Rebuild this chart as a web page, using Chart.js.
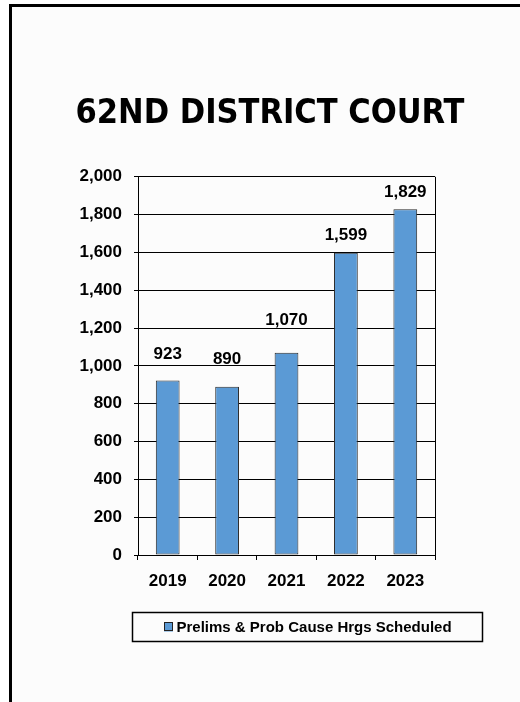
<!DOCTYPE html>
<html>
<head>
<meta charset="utf-8">
<script src="https://cdn.jsdelivr.net/npm/chart.js@4"></script>
<style>
  html, body { margin: 0; padding: 0; background: #ffffff; width: 520px; height: 702px; overflow: hidden; }
  #frame { position: absolute; left: 9px; top: 4px; width: 540px; height: 720px; border-left: 3px solid #000; border-top: 3px solid #000; background: #fcfcfc; }
  #wrap { position: absolute; left: 20px; top: 0; width: 500px; height: 702px; }
</style>
</head>
<body>
<div id="frame"></div>
<div id="wrap"><canvas id="c"></canvas></div>
<script>
const categories = ['2019', '2020', '2021', '2022', '2023'];
const seriesName = 'Prelims & Prob Cause Hrgs Scheduled';
const seriesValues = [923, 890, 1070, 1599, 1829];
const titleText = '62ND DISTRICT COURT';
const yTicks = [0, 200, 400, 600, 800, 1000, 1200, 1400, 1600, 1800, 2000];

const FONT = '"Liberation Sans", Arial, sans-serif';
const barColor = '#5b9ad5';
const labelLift = [26, 27, 32, 17, 17];

const fmt = v => v.toLocaleString('en-US');

const valueLabels = {
  id: 'valueLabels',
  afterDatasetsDraw(chart) {
    const ctx = chart.ctx;
    const meta = chart.getDatasetMeta(0);
    ctx.save();
    ctx.font = 'bold 17px ' + FONT;
    ctx.fillStyle = '#000';
    ctx.textAlign = 'center';
    ctx.textBaseline = 'middle';
    meta.data.forEach((bar, i) => {
      ctx.fillText(fmt(seriesValues[i]), bar.x, bar.y - labelLift[i]);
    });
    ctx.restore();
  }
};

const frameAndLegend = {
  id: 'frameAndLegend',
  afterDraw(chart) {
    const ctx = chart.ctx;
    const a = chart.chartArea;
    ctx.save();
    ctx.strokeStyle = '#000';
    ctx.lineWidth = 1;
    ctx.beginPath();
    ctx.moveTo(Math.round(a.right) + 0.5, a.top);
    ctx.lineTo(Math.round(a.right) + 0.5, a.bottom);
    ctx.stroke();
    const lx = 112.5, ly = a.bottom + 57.5, lw = 350, lh = 29;
    ctx.lineWidth = 1.5;
    ctx.strokeRect(lx, ly, lw, lh);
    ctx.fillStyle = barColor;
    ctx.fillRect(144, ly + 10, 9, 9);
    ctx.lineWidth = 1;
    ctx.strokeStyle = '#222';
    ctx.strokeRect(144.5, ly + 10, 8, 8);
    ctx.fillStyle = '#000';
    ctx.font = 'bold 15px ' + FONT;
    ctx.textAlign = 'left';
    ctx.textBaseline = 'middle';
    ctx.fillText(chart.data.datasets[0].label, 156.5, ly + 15);
    ctx.restore();
  }
};

new Chart(document.getElementById('c'), {
  type: 'bar',
  data: {
    labels: categories,
    datasets: [{
      label: seriesName,
      data: seriesValues,
      backgroundColor: barColor,
      borderColor: '#2a2a2a',
      borderWidth: 1,
      borderSkipped: false,
      barPercentage: 0.4,
      categoryPercentage: 1.0
    }]
  },
  options: {
    responsive: true,
    maintainAspectRatio: false,
    animation: false,
    layout: { padding: { left: 0, right: 0, top: 0, bottom: 107 } },
    plugins: {
      legend: { display: false },
      tooltip: { enabled: false },
      title: {
        display: true,
        text: titleText,
        color: '#000',
        font: { family: '"DejaVu Sans Condensed", "DejaVu Sans", sans-serif', size: 34, weight: 'bold', lineHeight: 1.2 },
        padding: { top: 94, bottom: 42 }
      }
    },
    scales: {
      x: {
        grid: { display: true, drawOnChartArea: false, drawTicks: true, tickLength: 5, color: '#000', offset: true },
        border: { display: true, color: '#000', width: 1 },
        ticks: { color: '#000', font: { family: FONT, size: 17, weight: 'bold' }, padding: 11 },
        afterFit(s) { s.height = 40; }
      },
      y: {
        min: 0, max: 2000,
        afterBuildTicks(s) { s.ticks = yTicks.map(v => ({ value: v })); },
        grid: { color: '#000', lineWidth: 1, tickLength: 4 },
        border: { display: true, color: '#000', width: 1 },
        ticks: { color: '#000', font: { family: FONT, size: 17, weight: 'bold' }, padding: 12, callback: v => fmt(v) },
        afterFit(s) { s.width = 118; }
      },
      yRight: {
        position: 'right',
        min: 0, max: 2000,
        grid: { display: false },
        border: { display: false },
        ticks: { display: false },
        afterFit(s) { s.width = 85; }
      }
    }
  },
  plugins: [valueLabels, frameAndLegend]
});
</script>
</body>
</html>
